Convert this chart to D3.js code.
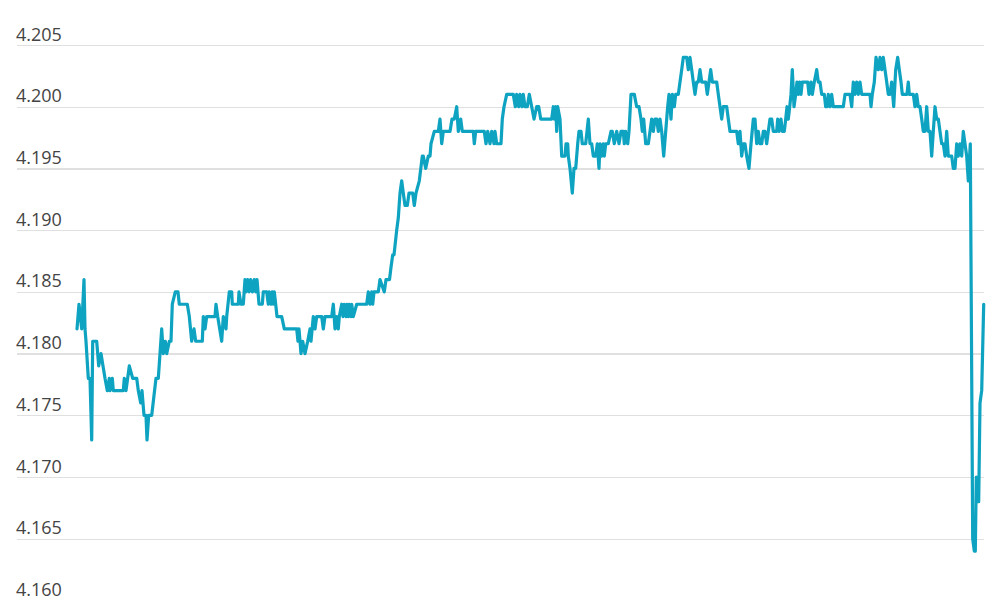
<!DOCTYPE html>
<html>
<head>
<meta charset="utf-8">
<script src="https://cdn.jsdelivr.net/npm/d3@7/dist/d3.min.js"></script>
<style>
  html, body { margin: 0; padding: 0; background: #fff; }
  svg { display: block; }
</style>
</head>
<body>
<svg id="chart" width="1000" height="600"></svg>
<script>
// y-axis tick values
const yTicks = [4.160, 4.165, 4.170, 4.175, 4.180, 4.185, 4.190, 4.195, 4.200, 4.205];

// [time offset, rate]
const session1 = [
  [0,4.182],[2,4.184],[4.7,4.182],[7,4.186],[8,4.182],[9,4.181],[11.3,4.178],[13,4.178],[14.7,4.173],[15.7,4.181],
  [19.7,4.181],[21.7,4.179],[24,4.180],[26,4.179],[28,4.178],[30.3,4.177],[32.3,4.178],[33,4.177],[35.3,4.178],[36.3,4.177],
  [46.3,4.177],[47.3,4.178],[49,4.177],[52.3,4.179],[55.7,4.178],[59.7,4.178],[61.3,4.177],[63.7,4.176],[65,4.177],[67,4.175],
  [69,4.175],[70,4.173],[71.7,4.175],[74.7,4.175],[79,4.178],[81.3,4.178],[83,4.180],[84.7,4.182],[86.3,4.180],[88.3,4.181],
  [89.7,4.180],[92.3,4.181],[94,4.181],[95.3,4.184],[98.3,4.185],[101,4.185],[102.3,4.184],[110.3,4.184],[112.3,4.183],[114.7,4.181],
  [117,4.182],[118.7,4.181],[125.3,4.181],[126.3,4.183],[128,4.182],[129.7,4.183],[138,4.183],[139,4.184],[140.7,4.183],[144.7,4.181],
  [146.3,4.183],[149,4.182],[149.7,4.183],[152.3,4.185]
];
const session2 = [
  [154.7,4.185],[155.3,4.184],[161.3,4.184],[162,4.185],[164,4.184],[166.3,4.184],[168,4.186],[169,4.185],[170.7,4.186],[172,4.185],
  [173.7,4.186],[175.3,4.185],[177.3,4.186],[178.7,4.185],[180,4.186],[181,4.185],[182,4.184],[185.3,4.184],[186.3,4.185],[189.7,4.185],
  [191.3,4.184],[192.3,4.185],[194,4.184],[195.3,4.185],[196.3,4.184],[197.3,4.185],[198.7,4.184],[200,4.183],[204.7,4.183],[207.3,4.182],
  [219.7,4.182],[221,4.181],[222,4.182],[224,4.180],[225.7,4.181],[228,4.180],[230.7,4.181],[233,4.182],[234,4.181],[236.3,4.183],
  [238,4.182],[239.7,4.183],[244.7,4.183],[246.3,4.182],[248,4.183],[254.7,4.183],[256.3,4.184],[258,4.182],[259.7,4.183],[261.3,4.182],
  [262.3,4.183],[264.7,4.184],[266,4.183],[267.3,4.184],[269,4.183],[270,4.184],[271.3,4.183],[272.3,4.184],[274,4.183],[274.7,4.184],
  [276.3,4.183],[279.7,4.184],[289.7,4.184],[291.3,4.185],[293,4.184],[294.7,4.185],[295.7,4.184],[297,4.185],[301.3,4.185],[303,4.186],
  [307.3,4.185],[309,4.186],[312.5,4.186],[314,4.187],[315.7,4.188],[317,4.188]
];
const session3 = [
  [319.7,4.190],[321.3,4.191],[323,4.193],[324.7,4.194],[326.3,4.193],[328,4.192],[330.3,4.192],[332,4.193],[335.7,4.193],[337.3,4.192],
  [339,4.193],[342.3,4.194],[345.3,4.196],[346.3,4.196],[348.7,4.195],[351.3,4.196],[353,4.196],[354,4.197],[357.3,4.198],[361.3,4.198],
  [363,4.199],[364.7,4.197],[366.3,4.198],[373,4.198],[375,4.199],[377.3,4.199],[379.7,4.200],[381.3,4.198],[383.7,4.199],[385.3,4.198],
  [396.3,4.198],[397.3,4.197],[398.7,4.198],[407.3,4.198],[409,4.197],[410.7,4.198],[413,4.197],[414.7,4.198],[417,4.197],[418,4.198],
  [419.7,4.197],[424,4.197],[425.3,4.199],[427,4.200],[429.7,4.201],[436.3,4.201],[438.3,4.200],[439.7,4.201],[441.7,4.200],[443,4.201],
  [445,4.200],[446.3,4.201],[448,4.200],[450.3,4.200],[452.3,4.201],[454.7,4.200],[457,4.199],[459.7,4.200],[461.7,4.200],[463.7,4.199],
  [474.7,4.199],[476.3,4.200],[477.3,4.199],[478.7,4.200],[479.7,4.198],[480.7,4.200],[483,4.199],[484.7,4.196],[488,4.196],[489,4.197]
];
const session4 = [
  [490.7,4.197],[491.3,4.196],[493,4.195],[495.3,4.193],[497,4.195],[498.7,4.195],[500.7,4.197],[502,4.198],[504,4.198],[505.3,4.197],
  [508.7,4.197],[511.3,4.199],[513,4.197],[514.7,4.197],[516.3,4.196],[518.7,4.196],[520.3,4.197],[522,4.195],[523,4.197],[524.7,4.196],
  [526.3,4.197],[527.3,4.196],[528.7,4.197],[531.3,4.197],[534,4.198],[535.3,4.198],[537.3,4.197],[539.7,4.198],[542,4.197],[544,4.198],
  [546.3,4.198],[547.3,4.197],[548.7,4.198],[550.7,4.197],[552,4.198],[554,4.201],[557.3,4.201],[559.7,4.200],[562,4.200],[564,4.199],
  [565.3,4.198],[566.7,4.199],[568.7,4.197],[571.3,4.197],[573,4.198],[574.7,4.199],[576.3,4.198],[578,4.199],[579.7,4.199],[581.3,4.198],
  [583,4.199],[584.7,4.198],[586.7,4.196],[588.7,4.198],[590.7,4.200],[592,4.201],[594,4.199],[595.3,4.201],[597.3,4.200],[598.7,4.201],
  [601.3,4.201],[603,4.202],[604.7,4.203],[606.3,4.204],[609.7,4.204],[611.3,4.203],[613,4.204],[614.7,4.203],[616.3,4.202],[618,4.201],
  [619.7,4.202],[621.3,4.202],[623,4.203],[624.7,4.202],[628.7,4.202],[630.3,4.201],[632,4.202],[633.7,4.203],[635.3,4.202],[639.7,4.202],
  [641.3,4.201],[643,4.200],[644.7,4.199],[646.3,4.200],[649.7,4.200],[651.3,4.199],[653,4.198],[659.7,4.198],[661.3,4.197],[663,4.198],
  [664.7,4.196],[666.3,4.197],[668,4.197],[669.7,4.196],[672,4.195],[674,4.197],[676.3,4.199],[678,4.199],[679.7,4.197],[681.3,4.198],
  [683,4.197],[684.7,4.197],[686.3,4.198],[688,4.198]
];
const session5 = [
  [689.7,4.197],[691.3,4.198],[693,4.199],[694.7,4.199],[696.3,4.198],[699.7,4.198],[700.7,4.199],[702,4.198],[704,4.199],[705.3,4.198],
  [707.3,4.198],[708.7,4.199],[710,4.200],[711.3,4.199],[712.7,4.200],[714,4.201],[715.3,4.203],[717,4.200],[718.7,4.201],[720,4.202],
  [721.3,4.201],[722.7,4.202],[724,4.201],[725.3,4.202],[730.7,4.202],[732,4.201],[734,4.202],[735.3,4.201],[737.3,4.202],[739.7,4.203],
  [741.3,4.202],[743,4.202],[744.7,4.201],[747.3,4.201],[748.7,4.200],[750,4.200],[751.3,4.201],[753,4.200],[754.7,4.201],[756.3,4.200],
  [766.3,4.200],[768,4.201],[773,4.201],[774.7,4.200],[776.3,4.202],[778,4.201],[779.7,4.202],[781.3,4.201],[783,4.202],[784.7,4.201],
  [793,4.201],[794,4.200],[795.3,4.201],[797.3,4.202],[799,4.204],[801.3,4.203],[803,4.204],[804.7,4.203],[806.3,4.204],[808,4.203],
  [809.7,4.202],[811.3,4.201],[813,4.201],[814.7,4.202],[816.7,4.200],[818.7,4.203],[820.7,4.204],[822.3,4.203],[824,4.202],[825.3,4.201],
  [830,4.201],[831.3,4.202],[832.3,4.201],[836.3,4.201],[838,4.200],[839.7,4.201],[841.3,4.200],[843,4.200],[844.7,4.199],[846.3,4.198],
  [848,4.198],[849.7,4.200],[851.3,4.198],[853,4.198],[854.7,4.196],[856.3,4.198],[858,4.200],[859.7,4.199],[861.3,4.199],[863,4.198],
  [864.7,4.197],[866.3,4.197],[868,4.196],[869.7,4.198],[871.3,4.196],[874.7,4.196],[876.3,4.195],[878,4.195],[879.7,4.197],[881.3,4.196],
  [883,4.197],[884.7,4.196],[886.3,4.198],[888,4.197],[889.7,4.196],[891.3,4.194],[893.3,4.197],[895.7,4.165],[897.3,4.164],[898.3,4.164],
  [899.3,4.170],[900.3,4.168],[901.7,4.168],[903,4.176],[904.7,4.177],[906.7,4.184]
];

const quotes = [].concat(session1, session2, session3, session4, session5);

const svg = d3.select("#chart");
const gridLeft = 17, gridRight = 984;

const x = d3.scaleLinear().domain([0, 907]).range([77, 984]);
const y = d3.scaleLinear().domain([4.160, 4.205]).range([600.5, 45]);

// gridlines + labels
const axis = d3.axisRight(y)
  .tickValues(yTicks)
  .tickSize(gridRight - gridLeft)
  .tickFormat(d3.format(".3f"));

const gAxis = svg.append("g")
  .attr("transform", `translate(${gridLeft},0)`)
  .call(axis);
gAxis.select(".domain").remove();
gAxis.selectAll(".tick line")
  .attr("stroke", "#e0e0e0")
  .attr("stroke-width", 1.3)
  .attr("shape-rendering", "crispEdges");
gAxis.selectAll(".tick text")
  .attr("x", -1)
  .attr("y", -5)
  .attr("dy", 0)
  .attr("text-anchor", "start")
  .attr("fill", "#444")
  .style("font-family", "'Open Sans', 'Noto Sans', sans-serif")
  .style("font-size", "18px");

// the line
const line = d3.line()
  .x(d => x(d[0]))
  .y(d => y(d[1]))
  .curve(d3.curveLinear);

svg.append("path")
  .datum(quotes)
  .attr("fill", "none")
  .attr("stroke", "#0ea3c0")
  .attr("stroke-width", 3.2)
  .attr("stroke-linejoin", "round")
  .attr("stroke-linecap", "round")
  .attr("d", line);
</script>
</body>
</html>
